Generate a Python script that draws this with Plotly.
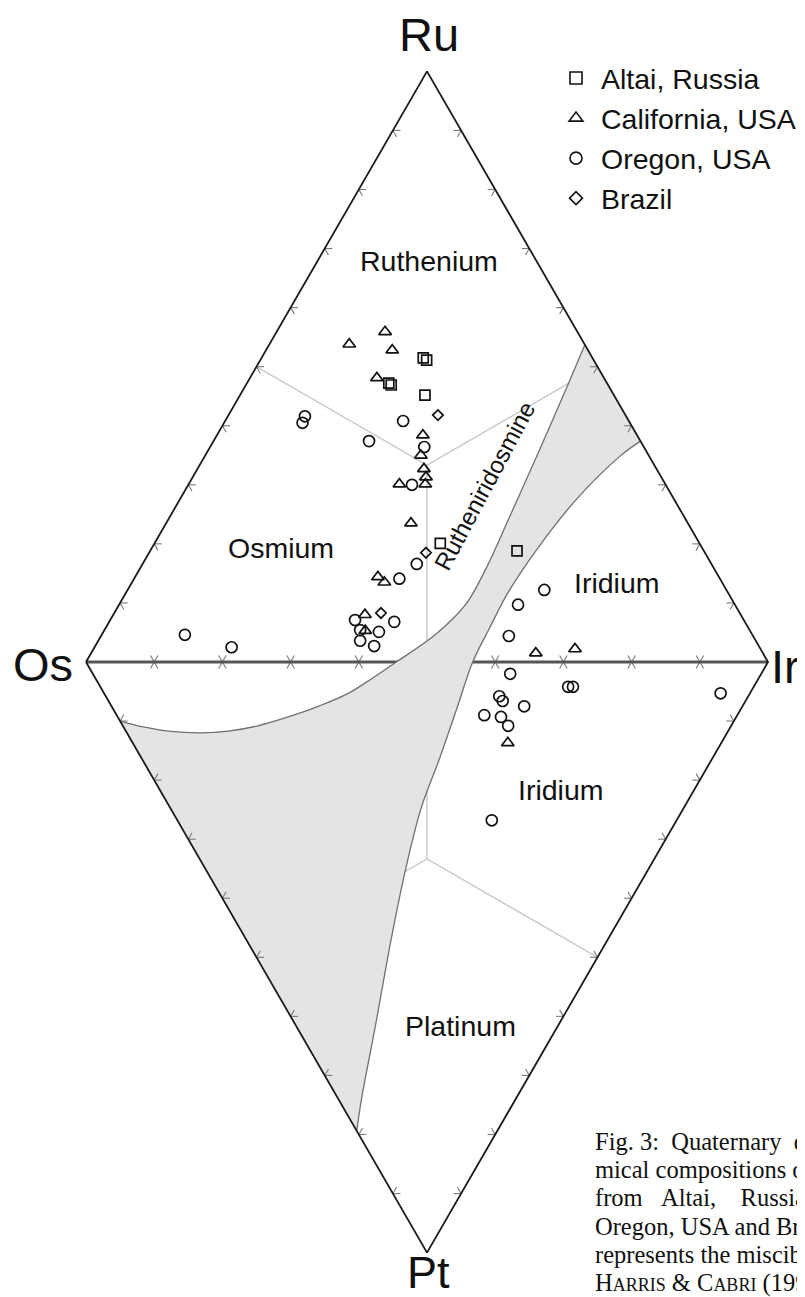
import numpy as np
import plotly.graph_objects as go

H = np.sqrt(3) / 2

# ---------------- data (wt.%, Os = remainder) ----------------
# upper triangle Os-Ru-Ir : Ru, Ir ; lower triangle Os-Pt-Ir : Pt, Ir
altai_ru = [51.5, 51.1, 46.9, 47.2, 45.2, 20.1, 18.8]
altai_ir = [23.7, 24.4, 21.3, 20.8, 27.1, 41.9, 53.8]

california_ru = [53.8, 55.9, 52.8, 48.1, 38.4, 35.0, 32.7, 31.3, 30.1, 30.1,
                 23.5, 14.4, 13.5, 8.0, 5.3, 1.5, 2.2]
california_ir = [11.7, 15.9, 18.5, 18.6, 30.2, 31.6, 33.2, 34.2, 34.7, 30.9,
                 35.9, 35.6, 37.0, 36.9, 38.3, 65.2, 70.6]
california_pt = [13.7]
california_pt_ir = [55.0]

oregon_ru = [40.8, 37.4, 41.6, 40.5, 36.4, 30.0, 16.6, 14.1, 7.1, 5.4, 3.6,
             2.7, 5.1, 6.8, 4.6, 2.5, 12.2, 9.7, 4.4]
oregon_ir = [26.1, 22.8, 11.3, 11.5, 31.4, 32.8, 40.2, 38.9, 35.9, 37.5, 38.4,
             40.9, 40.4, 41.8, 12.2, 20.1, 61.1, 58.5, 59.8]
oregon_pt = [2.0, 5.8, 6.6, 7.5, 4.2, 4.2, 5.3, 9.0, 9.3, 10.8, 26.8]
oregon_pt_ir = [61.2, 57.7, 57.8, 60.5, 68.6, 69.3, 90.4, 53.9, 56.2, 56.5, 46.1]

brazil_ru = [41.8, 18.5, 8.3]
brazil_ir = [30.7, 40.6, 39.1]

# miscibility gap (Harris & Cabri 1991) boundaries
gap_left_upper_ru = [53.7, 46.9, 35.4, 23.9, 16.4, 9.7, 4.6, 0.0]
gap_left_upper_ir = [46.3, 47.2, 48.6, 49.9, 50.7, 50.8, 48.9, 45.5]
gap_left_lower_pt = [0.0, 2.7, 5.3, 7.5, 9.3, 10.8, 11.7, 12.0, 11.7, 11.0, 10.0]
gap_left_lower_ir = [45.5, 40.7, 35.8, 30.3, 25.0, 19.8, 15.0, 10.9, 6.2, 2.9, 0.0]
gap_right_lower_pt = [79.4, 74.3, 61.5, 47.2, 35.4, 24.7, 16.3, 7.8, 0.0]
gap_right_lower_ir = [0.0, 3.2, 11.7, 21.1, 29.1, 36.8, 43.7, 50.5, 56.7]
gap_right_upper_ru = [0.0, 5.8, 11.7, 19.3, 27.8, 34.9, 37.4]
gap_right_upper_ir = [56.7, 56.3, 56.0, 56.6, 58.2, 60.9, 62.6]

series_names = ["Altai, Russia", "California, USA", "Oregon, USA", "Brazil"]
NB = "\u00a0"
SC = "<span style='font-size:18px'>"
caption_lines = [
    "Fig. 3:" + NB + NB + "Quaternary" + NB + NB + "d",
    "mical compositions o",
    "from" + NB * 3 + "Altai," + NB * 4 + "Russia",
    "Oregon, USA and Br",
    "represents the miscib",
    "H" + SC + "ARRIS</span> &amp; C" + SC + "ABRI</span> (199",
]


# ---------------- helpers ----------------
def upper(ru, ir):
    ru = np.asarray(ru, float); ir = np.asarray(ir, float)
    return list((ir + ru / 2) / 100), list(ru * H / 100)


def lower(pt, ir):
    pt = np.asarray(pt, float); ir = np.asarray(ir, float)
    return list((ir + pt / 2) / 100), list(-pt * H / 100)


OS = np.array([0.0, 0.0]); RU = np.array([0.5, H])
IR = np.array([1.0, 0.0]); PT = np.array([0.5, -H])

fig = go.Figure()


def add_line(xs, ys, color, width, shape="linear"):
    fig.add_trace(go.Scatter(x=xs, y=ys, mode="lines",
                             line=dict(color=color, width=width, shape=shape),
                             hoverinfo="skip", showlegend=False))


def ticks(A, B, C, L=0.011):
    xs, ys = [], []
    u1 = (C - A) / np.linalg.norm(C - A)
    u2 = (C - B) / np.linalg.norm(C - B)
    for t in np.arange(1, 10) / 10:
        P = A + t * (B - A)
        for u in (u1, u2):
            xs += [P[0], P[0] + L * u[0], None]
            ys += [P[1], P[1] + L * u[1], None]
    return xs, ys


# grid lines: centroid to edge midpoints
grid_col = "#cacaca"
for (A, B, C) in [(OS, RU, IR), (OS, PT, IR)]:
    cen = (A + B + C) / 3
    gx, gy = [], []
    for P, Q in [(A, B), (B, C), (A, C)]:
        m = (P + Q) / 2
        gx += [cen[0], m[0], None]; gy += [cen[1], m[1], None]
    add_line(gx, gy, grid_col, 1.5)

# Os-Ir join line and its ticks (under the gap fill)
tx1, ty1 = ticks(OS, IR, RU)
tx2, ty2 = ticks(OS, IR, PT)
add_line(tx1 + tx2, ty1 + ty2, "#7a7a7a", 1.1)
add_line([OS[0], IR[0]], [OS[1], IR[1]], "#555555", 3)

# miscibility gap
lux, luy = upper(gap_left_upper_ru, gap_left_upper_ir)
llx, lly = lower(gap_left_lower_pt[1:], gap_left_lower_ir[1:])
rlx, rly = lower(gap_right_lower_pt, gap_right_lower_ir)
rux, ruy = upper(gap_right_upper_ru[1:], gap_right_upper_ir[1:])
left_x, left_y = lux + llx, luy + lly
right_x, right_y = rlx + rux, rly + ruy
fig.add_trace(go.Scatter(x=left_x + right_x + [left_x[0]],
                         y=left_y + right_y + [left_y[0]],
                         mode="lines", fill="toself", fillcolor="#e4e4e4",
                         line=dict(width=0, color="rgba(0,0,0,0)"),
                         hoverinfo="skip", showlegend=False))
add_line(left_x, left_y, "#707070", 1.3, "spline")
add_line(right_x, right_y, "#707070", 1.3, "spline")

# outer edges and their ticks
ex, ey = [], []
for (A, B, C) in [(OS, RU, IR), (RU, IR, OS), (OS, PT, IR), (PT, IR, OS)]:
    x_, y_ = ticks(A, B, C)
    ex += x_; ey += y_
add_line(ex, ey, "#7a7a7a", 1.1)
add_line([OS[0], RU[0], IR[0], PT[0], OS[0]], [OS[1], RU[1], IR[1], PT[1], OS[1]],
         "#1a1a1a", 1.8)

# data markers
sym = ["square-open", "triangle-up-open", "circle-open", "diamond-open"]
msz = [10, 11, 11, 8]
xa, ya = upper(altai_ru, altai_ir)
xc1, yc1 = upper(california_ru, california_ir)
xc2, yc2 = lower(california_pt, california_pt_ir)
xo1, yo1 = upper(oregon_ru, oregon_ir)
xo2, yo2 = lower(oregon_pt, oregon_pt_ir)
xb, yb = upper(brazil_ru, brazil_ir)
sets = [(xa, ya), (xc1 + xc2, yc1 + yc2), (xo1 + xo2, yo1 + yo2), (xb, yb)]
for (x_, y_), s, sz in zip(sets, sym, msz):
    fig.add_trace(go.Scatter(x=x_, y=y_, mode="markers", showlegend=False,
                             hoverinfo="skip",
                             marker=dict(symbol=s, size=sz, color="#111111",
                                         line=dict(width=1.7, color="#111111"))))
leg_sz = [12, 12, 12, 10]
for name, s, sz in zip(series_names, sym, leg_sz):
    fig.add_trace(go.Scatter(x=[None], y=[None], mode="markers", name=name,
                             marker=dict(symbol=s, size=sz, color="#111111",
                                         line=dict(width=1.6, color="#111111"))))

# ---------------- layout ----------------
W, Hh = 805, 1297
X0, Y0, U = 78.0, 654.0, 682.0   # pixel position of Os and pixels per unit


def px(x, y):
    return (x - X0) / U, (Y0 - y) / U


ann = []
sans = "Arial, Liberation Sans, sans-serif"
for txt, (x, y), size in [("Ru", (421, 26), 47), ("Os", (35, 656), 47),
                          ("Ir", (777, 658), 47), ("Pt", (420, 1264), 45),
                          ("Ruthenium", (421, 253), 28.5), ("Osmium", (273, 540), 28.5),
                          ("Iridium", (609, 575), 28.5), ("Iridium", (553, 782), 28.5),
                          ("Platinum", (452, 1018), 28.5)]:
    ax, ay = px(x, y)
    ann.append(dict(x=ax, y=ay, xref="x", yref="y", text=txt, showarrow=False,
                    font=dict(family=sans, size=size, color="#111111"),
                    xanchor="center", yanchor="middle"))
ax, ay = px(476, 478)
ann.append(dict(x=ax, y=ay, xref="x", yref="y", text="Rutheniridosmine",
                showarrow=False, textangle=-62,
                font=dict(family=sans, size=24, color="#111111")))
for i, line in enumerate(caption_lines):
    ann.append(dict(x=585 / W, y=1 - (1133 + 28.4 * i) / Hh, xref="paper", yref="paper",
                    text=line, showarrow=False, xanchor="left", yanchor="middle",
                    font=dict(family="Times New Roman, Liberation Serif, serif",
                              size=24.5, color="#111111")))

fig.update_layout(
    width=W, height=Hh, margin=dict(l=0, r=0, t=0, b=0),
    paper_bgcolor="white", plot_bgcolor="white",
    xaxis=dict(range=[-X0 / U, (W - X0) / U], visible=False, fixedrange=True),
    yaxis=dict(range=[(Y0 - Hh) / U, Y0 / U], visible=False, fixedrange=True),
    showlegend=True,
    legend=dict(x=543 / W, y=1 - 45 / Hh, xanchor="left", yanchor="top",
                font=dict(family=sans, size=28.5, color="#111111"),
                bgcolor="rgba(0,0,0,0)", tracegroupgap=0, itemwidth=40),
    annotations=ann,
)

fig.write_html("out.html")
